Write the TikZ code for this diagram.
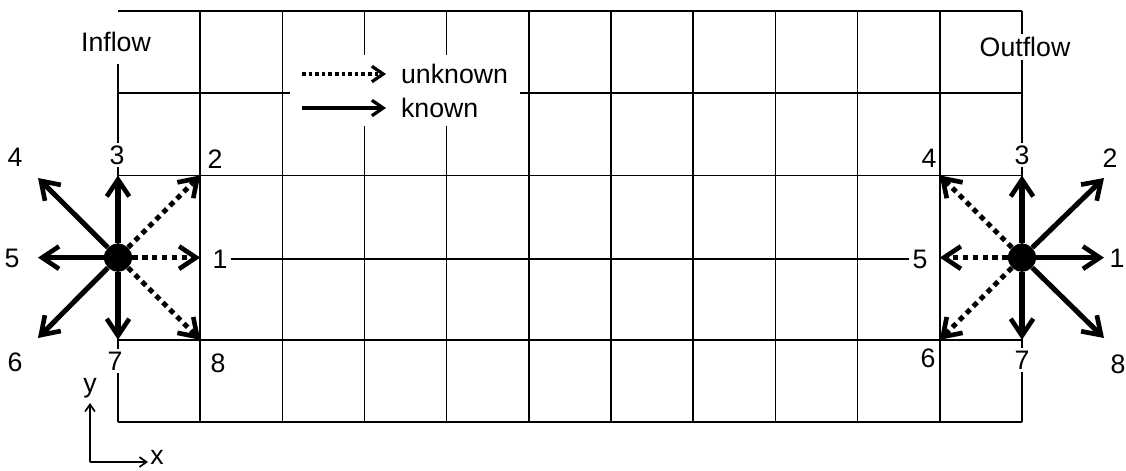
\documentclass[tikz,border=0pt]{standalone}
\usepackage{fontspec}
\setmainfont{Liberation Sans}
\usetikzlibrary{arrows.meta}

\begin{document}
\begin{tikzpicture}[x=0.025cm, y=-0.025cm,
  grid/.style={line width=1.1pt},
  known/.style={line width=3.6pt, -{Straight Barb[length=12pt 0, width=16pt 0, line width=3.3pt]}},
  unknown/.style={known, dash pattern=on 3.8pt off 3.2pt},
  legknown/.style={line width=2.3pt, -{Straight Barb[length=8pt 0, width=11pt 0, line width=2.3pt]}},
  legunknown/.style={legknown, dash pattern=on 2.5pt off 2.2pt},
  axis/.style={line width=1.2pt, -{Straight Barb[length=5pt 0, width=7pt 0]}},
  num/.style={fill=white, inner sep=2pt, font=\fontsize{19}{22}\selectfont},
  dot/.style={circle, fill=black, minimum size=20pt, inner sep=0pt}
]
  \useasboundingbox (0,0) rectangle (1126,470);

  % grid
  \draw[grid] (118,64) -- (118,422);
  \foreach \i in {1,...,11}
    \draw[grid] ({118+82.18*\i},11) -- ({118+82.18*\i},422);
  \foreach \y in {11,93.2,175.4,339.8,422}
    \draw[grid] (118,\y) -- (1022,\y);

  % legend
  \fill[white] (290,55) rectangle (520,126);
  \node[num, fill=none, anchor=west] (unk) at (398,74) {unknown};
  \node[num, fill=none, anchor=west] (kno) at (398,108) {known};
  \coordinate (unkstart) at (302,74);
  \coordinate (unkend) at (386,74);
  \coordinate (knostart) at (302,108);
  \coordinate (knoend) at (386,108);
  \draw[legunknown] (unkstart) -- (unkend);
  \draw[legknown] (knostart) -- (knoend);

  \node[num] (inflow) at (116,42) {Inflow};
  \node[num] (outflow) at (1025,47) {Outflow};

  % inflow node
  \node[dot] (in) at (118,257.6) {};
  \coordinate (in1) at (200.2,257.6);
  \coordinate (in2) at (200.2,175.4);
  \coordinate (in3) at (118,175.4);
  \coordinate (in4) at (38,178);
  \coordinate (in5) at (38,257.6);
  \coordinate (in6) at (38,338);
  \coordinate (in7) at (118,339.8);
  \coordinate (in8) at (200.2,339.8);
  \draw[unknown] (in) -- (in1);
  \draw[unknown] (in) -- (in2);
  \draw[unknown] (in) -- (in8);
  \draw[known] (in) -- (in3);
  \draw[known] (in) -- (in4);
  \draw[known] (in) -- (in5);
  \draw[known] (in) -- (in6);
  \draw[known] (in) -- (in7);

  % outflow node
  \node[dot] (out) at (1022,257.6) {};
  \coordinate (out1) at (1104,257.6);
  \coordinate (out2) at (1104,178);
  \coordinate (out3) at (1022,175.4);
  \coordinate (out4) at (939.8,175.4);
  \coordinate (out5) at (939.8,257.6);
  \coordinate (out6) at (939.8,339.8);
  \coordinate (out7) at (1022,339.8);
  \coordinate (out8) at (1104,338);
  \draw[unknown] (out) -- (out4);
  \draw[unknown] (out) -- (out5);
  \draw[unknown] (out) -- (out6);
  \draw[known] (out) -- (out1);
  \draw[known] (out) -- (out2);
  \draw[known] (out) -- (out3);
  \draw[known] (out) -- (out7);
  \draw[known] (out) -- (out8);

  % direction numbers
  \node[num] (l1) at (220,259) {1};
  \node[num] (l2) at (215,159) {2};
  \node[num] (l3) at (117,155) {3};
  \node[num] (l4) at (15,157) {4};
  \node[num] (l5) at (12,258) {5};
  \node[num] (l6) at (15,362) {6};
  \node[num] (l7) at (115,361) {7};
  \node[num] (l8) at (218,363) {8};
  \node[num] (r1) at (1117,258) {1};
  \node[num] (r2) at (1110,158) {2};
  \node[num] (r3) at (1022,155) {3};
  \node[num] (r4) at (929,158) {4};
  \node[num] (r5) at (920,259) {5};
  \node[num] (r6) at (928,358) {6};
  \node[num] (r7) at (1022,360) {7};
  \node[num] (r8) at (1118,364) {8};
  \draw[grid] (l1) -- (r5);

  % axes
  \coordinate (origin) at (90,462);
  \coordinate (ytip) at (90,403);
  \coordinate (xtip) at (148,462);
  \draw[axis] (origin) -- (ytip);
  \draw[axis] (origin) -- (xtip);
  \node[num, fill=none, inner sep=0pt] (ylab) at (90,388) {y};
  \node[num, fill=none, inner sep=0pt] (xlab) at (157,457) {x};
\end{tikzpicture}
\end{document}
